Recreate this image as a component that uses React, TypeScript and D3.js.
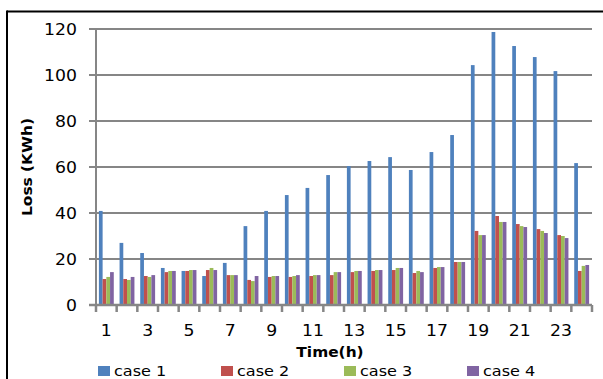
import * as d3 from 'd3';

const hours = ['1', '2', '3', '4', '5', '6', '7', '8', '9', '10', '11', '12', '13', '14', '15', '16', '17', '18', '19', '20', '21', '22', '23', '24'];
const case1 = [40.9, 27, 22.6, 16.1, 14.8, 12.6, 18.3, 34.3, 40.9, 47.8, 50.9, 56.5, 60.4, 62.6, 64.3, 58.7, 66.5, 73.9, 104.3, 118.7, 112.6, 107.8, 101.7, 61.7];
const case2 = [11.3, 11.3, 12.6, 14.3, 14.8, 15.2, 13, 10.9, 12.2, 12.2, 12.6, 13, 14.3, 14.8, 15.2, 13.9, 16.1, 18.7, 32.2, 38.7, 35.2, 33, 30.4, 14.8];
const case3 = [12.2, 10.9, 12.2, 14.8, 15.2, 16.1, 13, 10.4, 12.6, 12.6, 13, 14.3, 14.8, 15.2, 16.1, 14.8, 16.5, 18.7, 30.4, 36.1, 34.3, 32.2, 30, 17];
const case4 = [14.3, 12.2, 13, 14.8, 15.2, 15.2, 13, 12.6, 12.6, 13, 13, 14.3, 14.8, 15.2, 16.1, 14.3, 16.5, 18.7, 30.4, 36.1, 33.9, 31.3, 29.1, 17.4];
const seriesNames = ['case 1', 'case 2', 'case 3', 'case 4'];
const seriesValues = [case1, case2, case3, case4];
const colors = ['#4F81BD', '#C0504D', '#9BBB59', '#8064A2'];
const yTicks = [0, 20, 40, 60, 80, 100, 120];
const xTickLabels = ['1', '3', '5', '7', '9', '11', '13', '15', '17', '19', '21', '23'];

const FONT = 'DejaVu Sans';
const GRID = '#868686';

function Label({ x, y, anchor = 'middle', size = 15, weight = 'normal', sx = 1.15, rotate = 0, children }: any) {
  return (
    <g transform={`translate(${x},${y}) rotate(${rotate}) scale(${sx},1)`}>
      <text textAnchor={anchor} fontFamily={FONT} fontSize={size} fontWeight={weight} fill="#000">
        {children}
      </text>
    </g>
  );
}

export default function App() {
  const W = 603;
  const H = 379;
  const left = 96;
  const right = 592;
  const top = 29;
  const bottom = 305;

  const x = d3.scaleBand().domain(hours).range([left, right]).paddingInner(0.28).paddingOuter(0.14);
  const inner = d3.scaleBand().domain(seriesNames).range([0, x.bandwidth()]);
  const y = d3.scaleLinear().domain([0, 120]).range([bottom, top]);
  const edge = (h: string) => (x(h) as number) - (x.step() - x.bandwidth()) / 2;

  return (
    <svg width={W} height={H} style={{ position: 'absolute', left: 0, top: 0, background: '#fff' }}>
      <rect x={0} y={0} width={W} height={H} fill="#fff" />
      {/* frame */}
      <line x1={7} x2={W} y1={11.5} y2={11.5} stroke="#000" strokeWidth={2} />
      <line x1={7} x2={7} y1={10.5} y2={H} stroke="#000" strokeWidth={2} />

      {/* grid + y ticks */}
      {yTicks.map(t => (
        <g key={t}>
          {t > 0 && <line x1={left} x2={right} y1={y(t)} y2={y(t)} stroke={GRID} strokeWidth={2} />}
          <line x1={89} x2={left} y1={y(t)} y2={y(t)} stroke={GRID} strokeWidth={2} />
          <Label x={77} y={y(t) + 5.5} anchor="end">{t}</Label>
        </g>
      ))}

      {/* bars */}
      {seriesValues.map((vals, si) => (
        <g key={si} fill={colors[si]}>
          {vals.map((v, i) => (
            <rect
              key={i}
              x={(x(hours[i]) as number) + (inner(seriesNames[si]) as number)}
              y={y(v)}
              width={inner.bandwidth()}
              height={bottom - y(v)}
            />
          ))}
        </g>
      ))}

      {/* axes */}
      <line x1={left} x2={left} y1={top - 1} y2={bottom} stroke={GRID} strokeWidth={2} />
      <line x1={89} x2={right} y1={bottom} y2={bottom} stroke={GRID} strokeWidth={2.5} />
      {hours.map(h => (
        <line key={h} x1={edge(h)} x2={edge(h)} y1={bottom} y2={bottom + 7} stroke={GRID} strokeWidth={2.5} />
      ))}
      <line x1={right} x2={right} y1={bottom} y2={bottom + 7} stroke={GRID} strokeWidth={2.5} />
      {xTickLabels.map(h => (
        <Label key={h} x={(x(h) as number) + x.bandwidth() / 2} y={336}>{h}</Label>
      ))}

      {/* titles */}
      <Label x={330} y={357} weight="bold" size={14} sx={1.1}>Time(h)</Label>
      <Label x={32} y={167} weight="bold" size={14} sx={1.1} rotate={-90}>Loss (KWh)</Label>

      {/* legend */}
      {seriesNames.map((n, i) => (
        <g key={n} transform={`translate(${98 + i * 123},366)`}>
          <rect x={0} y={0} width={12} height={10} fill={colors[i]} />
          <Label x={16} y={10} anchor="start" size={14}>{n}</Label>
        </g>
      ))}
    </svg>
  );
}
